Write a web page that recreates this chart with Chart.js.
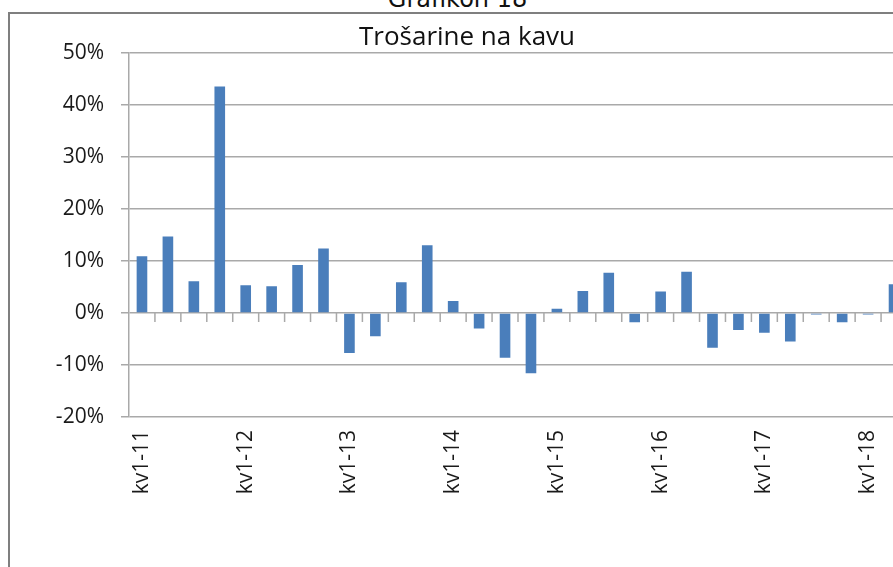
<!DOCTYPE html>
<html>
<head>
<meta charset="utf-8">
<script src="https://cdn.jsdelivr.net/npm/chart.js@4"></script>
<style>
  html, body { margin: 0; padding: 0; background: #fff; overflow: hidden; width: 893px; height: 567px; }
  #wrap { position: relative; width: 893px; height: 567px; overflow: hidden; }
  #cap { position: absolute; left: 0; top: -13px; width: 915px; text-align: center;
         font-family: "DejaVu Sans", sans-serif; font-size: 24px; line-height: 24px; color: #111; }
  #frame { position: absolute; left: 8px; top: 12px; width: 1100px; height: 800px;
           border: 2px solid #7f7f7f; box-sizing: border-box; }
  #c { position: absolute; left: 0; top: 0; }
</style>
</head>
<body>
<div id="wrap">
  <div id="cap">Grafikon 18</div>
  <div id="frame"></div>
  <canvas id="c" width="940" height="567"></canvas>
</div>
<script>
// Categories (quarters)
const quarters = [
  'kv1-11','kv2-11','kv3-11','kv4-11',
  'kv1-12','kv2-12','kv3-12','kv4-12',
  'kv1-13','kv2-13','kv3-13','kv4-13',
  'kv1-14','kv2-14','kv3-14','kv4-14',
  'kv1-15','kv2-15','kv3-15','kv4-15',
  'kv1-16','kv2-16','kv3-16','kv4-16',
  'kv1-17','kv2-17','kv3-17','kv4-17',
  'kv1-18','kv2-18'
];
// Year-on-year change of excise duties on coffee, %
const changes = [
  10.9, 14.7, 6.1, 43.5,
  5.3, 5.1, 9.2, 12.4,
  -7.7, -4.5, 5.9, 13.0,
  2.3, -3.0, -8.6, -11.6,
  0.8, 4.2, 7.7, -1.8,
  4.1, 7.9, -6.7, -3.3,
  -3.8, -5.5, -0.3, -1.8,
  -0.3, 5.5
];
// Y tick values
const yTicks = [-20, -10, 0, 10, 20, 30, 40, 50];
const chartTitle = 'Trošarine na kavu';

const gridColor = '#a9a9a9';
const textColor = '#1a1a1a';
const fontFamily = '"Open Sans", Lato, sans-serif';

const zeroTicks = {
  id: 'zeroTicks',
  afterDraw(chart) {
    const x = chart.scales.x, y = chart.scales.y;
    const ctx = chart.ctx;
    const y0 = y.getPixelForValue(0);
    ctx.save();
    ctx.strokeStyle = gridColor;
    ctx.lineWidth = 1.5;
    ctx.beginPath();
    for (let i = 1; i < quarters.length; i++) {
      const xb = (x.getPixelForValue(i - 1) + x.getPixelForValue(i)) / 2;
      ctx.moveTo(xb, y0);
      ctx.lineTo(xb, y0 + 9);
    }
    ctx.stroke();
    ctx.restore();
  }
};

new Chart(document.getElementById('c'), {
  type: 'bar',
  data: {
    labels: quarters,
    datasets: [{
      data: changes,
      backgroundColor: '#4a7ebb',
      borderWidth: 0,
      barPercentage: 0.41,
      categoryPercentage: 1
    }]
  },
  options: {
    responsive: false,
    animation: false,
    layout: { padding: { left: 27, right: 33, top: 0, bottom: 0 } },
    plugins: {
      legend: { display: false },
      tooltip: { enabled: false },
      title: {
        display: true,
        text: chartTitle,
        color: '#111',
        font: { family: fontFamily, size: 26, weight: 'normal', lineHeight: 1.2 },
        padding: { top: 21.5, bottom: 0 }
      }
    },
    scales: {
      x: {
        grid: { display: false, drawTicks: false },
        border: { display: false },
        afterFit(s) { s.height = 150; },
        ticks: {
          autoSkip: false,
          maxRotation: 90,
          minRotation: 90,
          padding: 13,
          color: textColor,
          font: { family: fontFamily, size: 21 },
          callback(v, i) { return i % 4 === 0 ? quarters[i] : ''; }
        }
      },
      y: {
        min: -20,
        max: 50,
        afterFit(s) { s.width = 102; },
        afterBuildTicks(s) { s.ticks = yTicks.map(v => ({ value: v })); },
        grid: { color: gridColor, lineWidth: 1.5, tickLength: 8, drawTicks: true },
        border: { display: true, color: gridColor, width: 1.5 },
        ticks: {
          padding: 17,
          color: textColor,
          font: { family: fontFamily, size: 21 },
          callback(v) { return v + '%'; }
        }
      }
    }
  },
  plugins: [zeroTicks]
});
</script>
</body>
</html>
